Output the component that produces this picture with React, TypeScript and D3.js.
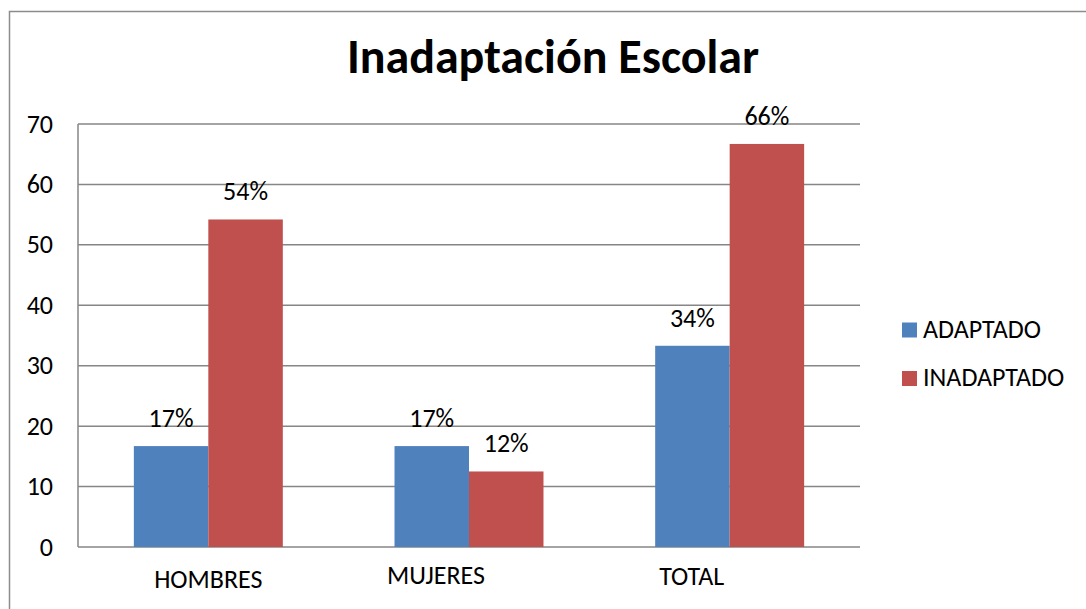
import React from "react";
import * as d3 from "d3";

const categories = ["HOMBRES", "MUJERES", "TOTAL"];
const seriesNames = ["ADAPTADO", "INADAPTADO"];
const adaptado = [16.7, 16.7, 33.3];
const inadaptado = [54.2, 12.5, 66.7];
const adaptadoLabels = ["17%", "17%", "34%"];
const inadaptadoLabels = ["54%", "12%", "66%"];
const yTicks = [0, 10, 20, 30, 40, 50, 60, 70];
const title = "Inadaptación Escolar";

const colors = ["#4F81BD", "#C0504D"];
// layout tweaks for category label placement (as in reference)
const catLabelShift = [0, -33, -38];
const catLabelY = [588, 584, 585];

const W = 1086;
const H = 609;
const plot = { left: 78, right: 860, top: 124, bottom: 547 };
const FONT = "Carlito, Calibri, 'Liberation Sans', Arial, sans-serif";
const FS = 26;

export default function App() {
  const x0 = d3
    .scaleBand<string>()
    .domain(categories)
    .range([plot.left, plot.right])
    .paddingInner(0.4285)
    .paddingOuter(0.21425);
  const x1 = d3
    .scaleBand<string>()
    .domain(seriesNames)
    .range([0, x0.bandwidth()])
    .padding(0);
  const y = d3.scaleLinear().domain([0, 70]).range([plot.bottom, plot.top]);

  const series = [
    { name: seriesNames[0], values: adaptado, labels: adaptadoLabels, color: colors[0] },
    { name: seriesNames[1], values: inadaptado, labels: inadaptadoLabels, color: colors[1] },
  ];

  const grid = "#868686";

  return (
    <svg
      width={W}
      height={H}
      style={{ position: "absolute", left: 0, top: 0, display: "block", background: "#fff" }}
      fontFamily={FONT}
    >
      <rect x={0} y={0} width={W} height={H} fill="#fff" />
      <rect x={9.5} y={11.5} width={1200} height={800} fill="none" stroke="#8c8c8c" strokeWidth={1.5} />

      <text x={553} y={73} textAnchor="middle" fontSize={48} fontWeight="bold" fill="#000">
        {title}
      </text>

      {yTicks.map((t) => (
        <g key={t}>
          <line x1={plot.left} x2={plot.right} y1={y(t)} y2={y(t)} stroke={grid} strokeWidth={1.5} />
          <text x={53} y={y(t)} dy="0.33em" textAnchor="end" fontSize={FS} fill="#000">
            {t}
          </text>
        </g>
      ))}
      <line x1={plot.left} x2={plot.left} y1={plot.top} y2={plot.bottom} stroke={grid} strokeWidth={1.5} />

      {categories.map((c, i) => (
        <g key={c}>
          {series.map((s) => {
            const bx = (x0(c) as number) + (x1(s.name) as number);
            const by = y(s.values[i]);
            return (
              <g key={s.name}>
                <rect x={bx} y={by} width={x1.bandwidth()} height={plot.bottom - by} fill={s.color} />
                <text x={bx + x1.bandwidth() / 2} y={by - 19} textAnchor="middle" fontSize={FS} fill="#000">
                  {s.labels[i]}
                </text>
              </g>
            );
          })}
          <text
            x={(x0(c) as number) + x0.bandwidth() / 2 + catLabelShift[i]}
            y={catLabelY[i]}
            textAnchor="middle"
            fontSize={FS}
            fill="#000"
          >
            {c}
          </text>
        </g>
      ))}

      {series.map((s, i) => (
        <g key={s.name} transform={`translate(902, ${322.5 + i * 48.5})`}>
          <rect x={0} y={0} width={15} height={15} fill={s.color} />
          <text x={21} y={15} fontSize={FS} fill="#000">
            {s.name}
          </text>
        </g>
      ))}
    </svg>
  );
}
